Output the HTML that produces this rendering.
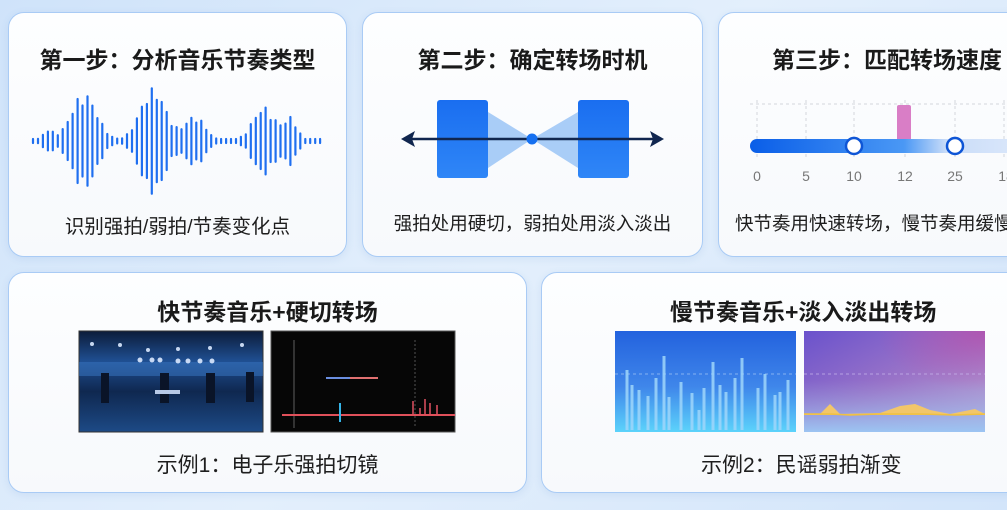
<!DOCTYPE html>
<html><head><meta charset="utf-8">
<style>
html,body{margin:0;padding:0;width:1007px;height:510px;overflow:hidden;background:linear-gradient(135deg,#cfe3fa 0%,#e3effc 50%,#d3e5fa 100%);font-family:"Liberation Sans","Noto Sans CJK SC",sans-serif;}
.card{position:absolute;background:linear-gradient(180deg,#fdfeff,#f7f9fc);border:1.5px solid #a9cbf5;border-radius:16px;box-shadow:0 2px 8px rgba(80,130,200,0.12);}
.t{position:absolute;left:0;right:0;text-align:center;font-weight:bold;font-size:23px;color:#1a1a1a;white-space:nowrap}
.s{position:absolute;left:0;right:0;text-align:center;font-size:18.5px;color:#1e1e1e;white-space:nowrap}
svg{position:absolute;left:0;top:0}
</style></head><body>
<div class="card" style="left:8px;top:12px;width:337px;height:243px"><div class="t" style="top:28px">第一步：分析音乐节奏类型</div><div class="s" style="top:197px;font-size:19.5px">识别强拍/弱拍/节奏变化点</div></div>
<div class="card" style="left:362px;top:12px;width:339px;height:243px"><div class="t" style="top:28px">第二步：确定转场时机</div><div class="s" style="top:197px">强拍处用硬切，弱拍处用淡入淡出</div></div>
<div class="card" style="left:718px;top:12px;width:310px;height:243px"><div class="t" style="top:28px;text-align:left;left:53px">第三步：匹配转场速度</div><div class="s" style="top:197px;text-align:left;left:16px">快节奏用快速转场，慢节奏用缓慢转场</div></div>
<div class="card" style="left:8px;top:272px;width:517px;height:219px"><div class="t" style="top:20px">快节奏音乐+硬切转场</div><div class="s" style="top:176px;font-size:21px">示例1：电子乐强拍切镜</div></div>
<div class="card" style="left:541px;top:272px;width:490px;height:219px"><div class="t" style="top:20px;text-align:left;left:128px">慢节奏音乐+淡入淡出转场</div><div class="s" style="top:176px;font-size:21px;text-align:left;left:159px">示例2：民谣弱拍渐变</div></div>

<svg width="1007" height="510" viewBox="0 0 1007 510">
<defs>
<linearGradient id="rb" x1="0" y1="0" x2="0" y2="1"><stop offset="0" stop-color="#1a6ef0"/><stop offset="1" stop-color="#2f86f7"/></linearGradient>
<linearGradient id="tr" x1="0" y1="0" x2="1" y2="0"><stop offset="0" stop-color="#0a5ee8"/><stop offset="0.55" stop-color="#4a98f5"/><stop offset="0.7" stop-color="#c9dcf8"/><stop offset="1" stop-color="#dde9fb"/></linearGradient>
<linearGradient id="bl" x1="0" y1="0" x2="0" y2="1"><stop offset="0" stop-color="#2362de"/><stop offset="0.55" stop-color="#3f86ea"/><stop offset="1" stop-color="#5cd3fb"/></linearGradient>
<linearGradient id="pu" x1="0" y1="0" x2="1" y2="1"><stop offset="0" stop-color="#6a52cc"/><stop offset="0.5" stop-color="#9a74c8"/><stop offset="1" stop-color="#b9a8d6"/></linearGradient>
<radialGradient id="pk" cx="1" cy="0" r="0.6"><stop offset="0" stop-color="#b84aa8" stop-opacity="0.7"/><stop offset="1" stop-color="#b84aa8" stop-opacity="0"/></radialGradient>
<linearGradient id="pb" x1="0" y1="0" x2="0" y2="1"><stop offset="0" stop-color="#9aa0dd" stop-opacity="0"/><stop offset="1" stop-color="#9cc4f2"/></linearGradient>
<linearGradient id="stage" x1="0" y1="0" x2="0" y2="1"><stop offset="0" stop-color="#0c1c3a"/><stop offset="0.3" stop-color="#1f4f92"/><stop offset="0.6" stop-color="#0f2850"/><stop offset="1" stop-color="#1d4a86"/></linearGradient>
</defs>
<g id="wave" stroke="#1f6ff0" stroke-width="2.2" stroke-linecap="round"></g>

<polygon points="488,112 532,139 488,168" fill="#a9cdf7"/>
<polygon points="578,112 532,139 578,168" fill="#a9cdf7"/>
<rect x="437" y="100" width="51" height="78" rx="3" fill="url(#rb)"/>
<rect x="578" y="100" width="51" height="78" rx="3" fill="url(#rb)"/>
<line x1="408" y1="139" x2="657" y2="139" stroke="#10264f" stroke-width="2.5"/>
<polygon points="401,139 415,131 412,139 415,147" fill="#10264f"/>
<polygon points="664,139 650,131 653,139 650,147" fill="#10264f"/>
<circle cx="532" cy="139" r="5.5" fill="#1670f0"/>

<g stroke="#d3d6dc" stroke-width="1" stroke-dasharray="3,3">
<line x1="750" y1="104" x2="1007" y2="104"/>
<line x1="757" y1="100" x2="757" y2="160"/><line x1="806" y1="100" x2="806" y2="160"/><line x1="854" y1="100" x2="854" y2="160"/><line x1="905" y1="100" x2="905" y2="160"/><line x1="955" y1="100" x2="955" y2="160"/><line x1="1004" y1="100" x2="1004" y2="160"/>
</g>
<rect x="897" y="105" width="14" height="36" rx="2" fill="#d97ec6"/>
<rect x="750" y="139" width="280" height="14" rx="7" fill="url(#tr)"/>
<circle cx="854" cy="146" r="8" fill="#fff" stroke="#0e55d6" stroke-width="2.5"/>
<circle cx="955" cy="146" r="8" fill="#fff" stroke="#0e55d6" stroke-width="2.5"/>
<g font-family="Liberation Sans,sans-serif" font-size="14" fill="#777" text-anchor="middle">
<text x="757" y="181">0</text><text x="806" y="181">5</text><text x="854" y="181">10</text><text x="905" y="181">12</text><text x="955" y="181">25</text><text x="1006" y="181">18</text>
</g>

<rect x="79" y="331" width="184" height="101" fill="url(#stage)" stroke="#333" stroke-width="1"/>
<rect x="79" y="362" width="184" height="14" fill="#3a78c4" opacity="0.5"/>
<g fill="#dbe9ff" opacity="0.9">
<circle cx="92" cy="344" r="2"/><circle cx="120" cy="345" r="2"/><circle cx="148" cy="350" r="2"/><circle cx="178" cy="349" r="2"/><circle cx="210" cy="348" r="2"/><circle cx="242" cy="345" r="2"/>
<circle cx="140" cy="360" r="2.5"/><circle cx="152" cy="360" r="2.5"/><circle cx="160" cy="360" r="2.5"/><circle cx="178" cy="361" r="2.5"/><circle cx="188" cy="361" r="2.5"/><circle cx="200" cy="361" r="2.5"/><circle cx="212" cy="361" r="2.5"/>
</g>
<g fill="#0a1428"><rect x="101" y="373" width="8" height="30"/><rect x="160" y="373" width="9" height="30"/><rect x="206" y="373" width="9" height="30"/><rect x="246" y="372" width="8" height="30"/></g>
<rect x="155" y="390" width="25" height="4" fill="#b7c9e6"/>
<rect x="271" y="331" width="184" height="101" fill="#060606" stroke="#555" stroke-width="1"/>
<line x1="294" y1="340" x2="294" y2="428" stroke="#777" stroke-width="0.8"/>
<line x1="415" y1="340" x2="415" y2="428" stroke="#666" stroke-width="0.8" stroke-dasharray="2,2"/>
<line x1="326" y1="378" x2="378" y2="378" stroke="#6a8ee0" stroke-width="2"/>
<line x1="350" y1="378" x2="378" y2="378" stroke="#e07070" stroke-width="2"/>
<line x1="282" y1="415" x2="455" y2="415" stroke="#e0505a" stroke-width="2"/>
<line x1="340" y1="403" x2="340" y2="422" stroke="#35b4e8" stroke-width="2"/>
<g stroke="#e05060" stroke-width="1.5"><line x1="413" y1="415" x2="413" y2="401"/><line x1="425" y1="415" x2="425" y2="399"/><line x1="430" y1="415" x2="430" y2="403"/><line x1="437" y1="415" x2="437" y2="405"/><line x1="420" y1="415" x2="420" y2="408"/></g>

<rect x="615" y="331" width="181" height="101" fill="url(#bl)"/>
<line x1="615" y1="374" x2="796" y2="374" stroke="#9ec3f5" stroke-width="0.8" stroke-dasharray="3,3"/>
<g id="bars" stroke="#9fd6fb" stroke-width="3" opacity="0.85"></g>
<rect x="804" y="331" width="181" height="101" fill="url(#pu)"/>
<rect x="804" y="331" width="181" height="101" fill="url(#pk)"/>
<rect x="804" y="380" width="181" height="52" fill="url(#pb)"/>
<line x1="804" y1="374" x2="985" y2="374" stroke="#c6b4ea" stroke-width="0.8" stroke-dasharray="3,3"/>
<path d="M804,414 L820,414 L830,404 L840,414 L880,413 L900,406 L915,404 L930,410 L950,414 L975,409 L985,414 L985,415 L804,415Z" fill="#f2c66a"/>
<path d="M804,414 L830,414 L850,415 L880,414 L920,414 L955,415 L985,414" stroke="#f0c040" stroke-width="1.5" fill="none"/>
</svg>
<script>
var w=document.getElementById('wave'),s='';
function env(x){return 10*Math.exp(-Math.pow((x-48)/8,2))+48*Math.exp(-Math.pow((x-84)/18,2))+53*Math.exp(-Math.pow((x-153)/18,2))+25*Math.exp(-Math.pow((x-195)/14,2))+34*Math.exp(-Math.pow((x-264)/16,2))+22*Math.exp(-Math.pow((x-291)/9,2));}
for(var i=0;i<59;i++){var x=33+i*4.95;var a=Math.max(2,env(x)*(0.7+0.3*Math.abs(Math.sin(i*1.9))));s+='<line x1="'+x.toFixed(1)+'" y1="'+(141-a).toFixed(1)+'" x2="'+x.toFixed(1)+'" y2="'+(141+a).toFixed(1)+'"/>';}
w.innerHTML=s;
var b=document.getElementById('bars');s='';
var xs=[627,632,639,648,656,664,669,681,692,699,704,713,720,726,735,742,758,765,775,780,788];
var ys=[370,385,390,396,378,356,397,382,393,410,388,362,385,392,378,358,388,374,395,392,380];
for(var j=0;j<xs.length;j++){s+='<line x1="'+xs[j]+'" y1="'+ys[j]+'" x2="'+xs[j]+'" y2="430"/>';}
b.innerHTML=s;
</script>
</body></html>
